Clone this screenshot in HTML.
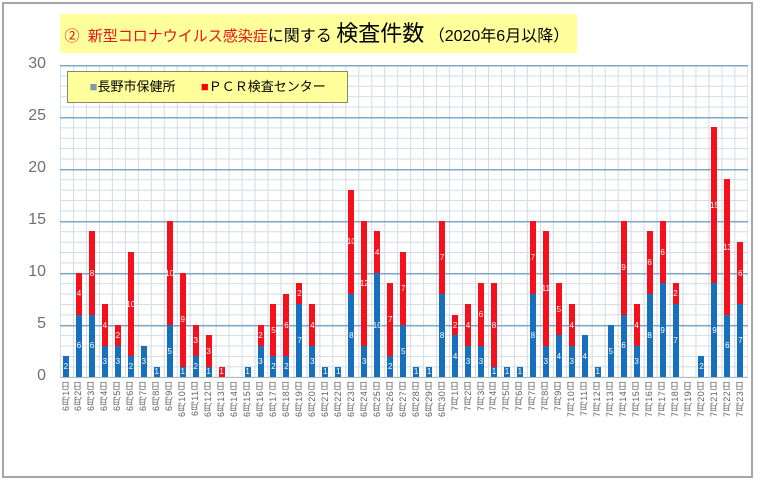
<!DOCTYPE html>
<html><head><meta charset="utf-8"><style>
body{margin:0;width:762px;height:484px;background:#fff;position:relative;overflow:hidden;font-family:"Liberation Sans","Noto Sans CJK JP",sans-serif}
.frame{position:absolute;left:2px;top:2px;width:751px;height:476px;border:2px solid #a6a6a6;box-sizing:border-box}
.title{position:absolute;left:60px;top:14px;width:517px;height:39px;background:#ffff9c;font-size:16px;line-height:39px;white-space:nowrap}
.title .r{color:#e8141a;font-size:15px}
.title .b{font-size:22px;}
.plot{position:absolute;left:59.5px;top:65px;width:688px;height:312px;
background-image:
linear-gradient(to bottom,#7fa7c6 1.5px,transparent 1.5px),
linear-gradient(to bottom,#d3dbe4 1px,transparent 1px),
linear-gradient(to right,#d3dbe4 1px,transparent 1px);
background-size:100% 52px,100% 10.4px,12.98px 100%;border-bottom:1px solid #b0b8c0}
.bars{position:absolute;left:59.5px;top:65px;width:688px;height:312px;display:flex;align-items:flex-end}
.c{width:12.98px;display:flex;flex-direction:column-reverse;align-items:center}
.c div{width:6px;color:#fff;font-size:8px;display:flex;align-items:center;justify-content:center;overflow:visible;white-space:nowrap}
.bl{background:#1670bd}.rd{background:#f5101c}
.ylab{position:absolute;left:20px;width:26px;text-align:right;font-size:16px;color:#707070}
.legend{position:absolute;left:67px;top:71px;width:281px;height:32px;background:#ffff9c;border:1px solid #8a8a60;box-sizing:border-box;font-size:13px;line-height:30px;white-space:nowrap}
.xl{position:absolute;left:59.5px;top:381px;width:688px;height:50px;display:flex}
.xl span{width:12.98px;height:50px;writing-mode:vertical-rl;transform:rotate(180deg);text-align:end;font-size:9px;letter-spacing:0.6px;color:#606060;line-height:12.98px}
</style></head><body>
<div class="frame"></div>
<div class="title">&nbsp;<span class="r">②&nbsp; 新型コロナウイルス感染症</span>に関する <span class="b">検査件数</span> （2020年6月以降）</div>
<div class="plot"></div>
<div class="ylab" style="top:55px">30</div>
<div class="ylab" style="top:107px">25</div>
<div class="ylab" style="top:159px">20</div>
<div class="ylab" style="top:211px">15</div>
<div class="ylab" style="top:263px">10</div>
<div class="ylab" style="top:315px">5</div>
<div class="ylab" style="top:367px">0</div>
<div class="legend">&nbsp;&nbsp;&nbsp;&nbsp;&nbsp;&nbsp;<span style="color:#8497b0">■</span>長野市保健所&nbsp;&nbsp;&nbsp;&nbsp;&nbsp;&nbsp;&nbsp;<span style="color:#ff0000">■</span>ＰＣＲ検査センター</div>
<div class="bars">
<div class="c"><div class="bl" style="height:20.8px">2</div></div>
<div class="c"><div class="bl" style="height:62.4px">6</div><div class="rd" style="height:41.6px">4</div></div>
<div class="c"><div class="bl" style="height:62.4px">6</div><div class="rd" style="height:83.2px">8</div></div>
<div class="c"><div class="bl" style="height:31.2px">3</div><div class="rd" style="height:41.6px">4</div></div>
<div class="c"><div class="bl" style="height:31.2px">3</div><div class="rd" style="height:20.8px">2</div></div>
<div class="c"><div class="bl" style="height:20.8px">2</div><div class="rd" style="height:104px">10</div></div>
<div class="c"><div class="bl" style="height:31.2px">3</div></div>
<div class="c"><div class="bl" style="height:10.4px">1</div></div>
<div class="c"><div class="bl" style="height:52px">5</div><div class="rd" style="height:104px">10</div></div>
<div class="c"><div class="bl" style="height:10.4px">1</div><div class="rd" style="height:93.6px">9</div></div>
<div class="c"><div class="bl" style="height:20.8px">2</div><div class="rd" style="height:31.2px">3</div></div>
<div class="c"><div class="bl" style="height:10.4px">1</div><div class="rd" style="height:31.2px">3</div></div>
<div class="c"><div class="rd" style="height:10.4px">1</div></div>
<div class="c"></div>
<div class="c"><div class="bl" style="height:10.4px">1</div></div>
<div class="c"><div class="bl" style="height:31.2px">3</div><div class="rd" style="height:20.8px">2</div></div>
<div class="c"><div class="bl" style="height:20.8px">2</div><div class="rd" style="height:52px">5</div></div>
<div class="c"><div class="bl" style="height:20.8px">2</div><div class="rd" style="height:62.4px">6</div></div>
<div class="c"><div class="bl" style="height:72.8px">7</div><div class="rd" style="height:20.8px">2</div></div>
<div class="c"><div class="bl" style="height:31.2px">3</div><div class="rd" style="height:41.6px">4</div></div>
<div class="c"><div class="bl" style="height:10.4px">1</div></div>
<div class="c"><div class="bl" style="height:10.4px">1</div></div>
<div class="c"><div class="bl" style="height:83.2px">8</div><div class="rd" style="height:104px">10</div></div>
<div class="c"><div class="bl" style="height:31.2px">3</div><div class="rd" style="height:124.8px">12</div></div>
<div class="c"><div class="bl" style="height:104px">10</div><div class="rd" style="height:41.6px">4</div></div>
<div class="c"><div class="bl" style="height:20.8px">2</div><div class="rd" style="height:72.8px">7</div></div>
<div class="c"><div class="bl" style="height:52px">5</div><div class="rd" style="height:72.8px">7</div></div>
<div class="c"><div class="bl" style="height:10.4px">1</div></div>
<div class="c"><div class="bl" style="height:10.4px">1</div></div>
<div class="c"><div class="bl" style="height:83.2px">8</div><div class="rd" style="height:72.8px">7</div></div>
<div class="c"><div class="bl" style="height:41.6px">4</div><div class="rd" style="height:20.8px">2</div></div>
<div class="c"><div class="bl" style="height:31.2px">3</div><div class="rd" style="height:41.6px">4</div></div>
<div class="c"><div class="bl" style="height:31.2px">3</div><div class="rd" style="height:62.4px">6</div></div>
<div class="c"><div class="bl" style="height:10.4px">1</div><div class="rd" style="height:83.2px">8</div></div>
<div class="c"><div class="bl" style="height:10.4px">1</div></div>
<div class="c"><div class="bl" style="height:10.4px">1</div></div>
<div class="c"><div class="bl" style="height:83.2px">8</div><div class="rd" style="height:72.8px">7</div></div>
<div class="c"><div class="bl" style="height:31.2px">3</div><div class="rd" style="height:114.4px">11</div></div>
<div class="c"><div class="bl" style="height:41.6px">4</div><div class="rd" style="height:52px">5</div></div>
<div class="c"><div class="bl" style="height:31.2px">3</div><div class="rd" style="height:41.6px">4</div></div>
<div class="c"><div class="bl" style="height:41.6px">4</div></div>
<div class="c"><div class="bl" style="height:10.4px">1</div></div>
<div class="c"><div class="bl" style="height:52px">5</div></div>
<div class="c"><div class="bl" style="height:62.4px">6</div><div class="rd" style="height:93.6px">9</div></div>
<div class="c"><div class="bl" style="height:31.2px">3</div><div class="rd" style="height:41.6px">4</div></div>
<div class="c"><div class="bl" style="height:83.2px">8</div><div class="rd" style="height:62.4px">6</div></div>
<div class="c"><div class="bl" style="height:93.6px">9</div><div class="rd" style="height:62.4px">6</div></div>
<div class="c"><div class="bl" style="height:72.8px">7</div><div class="rd" style="height:20.8px">2</div></div>
<div class="c"></div>
<div class="c"><div class="bl" style="height:20.8px">2</div></div>
<div class="c"><div class="bl" style="height:93.6px">9</div><div class="rd" style="height:156px">15</div></div>
<div class="c"><div class="bl" style="height:62.4px">6</div><div class="rd" style="height:135.2px">13</div></div>
<div class="c"><div class="bl" style="height:72.8px">7</div><div class="rd" style="height:62.4px">6</div></div>
</div>
<div class="xl">
<span>6月1日</span><span>6月2日</span><span>6月3日</span><span>6月4日</span><span>6月5日</span><span>6月6日</span><span>6月7日</span><span>6月8日</span><span>6月9日</span><span>6月10日</span><span>6月11日</span><span>6月12日</span><span>6月13日</span><span>6月14日</span><span>6月15日</span><span>6月16日</span><span>6月17日</span><span>6月18日</span><span>6月19日</span><span>6月20日</span><span>6月21日</span><span>6月22日</span><span>6月23日</span><span>6月24日</span><span>6月25日</span><span>6月26日</span><span>6月27日</span><span>6月28日</span><span>6月29日</span><span>6月30日</span><span>7月1日</span><span>7月2日</span><span>7月3日</span><span>7月4日</span><span>7月5日</span><span>7月6日</span><span>7月7日</span><span>7月8日</span><span>7月9日</span><span>7月10日</span><span>7月11日</span><span>7月12日</span><span>7月13日</span><span>7月14日</span><span>7月15日</span><span>7月16日</span><span>7月17日</span><span>7月18日</span><span>7月19日</span><span>7月20日</span><span>7月21日</span><span>7月22日</span><span>7月23日</span>
</div>
</body></html>
